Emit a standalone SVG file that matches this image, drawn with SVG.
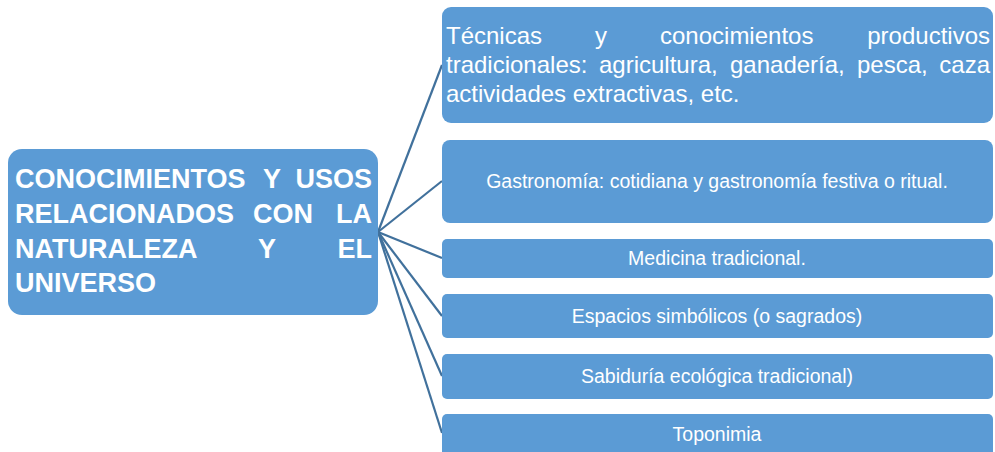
<svg xmlns="http://www.w3.org/2000/svg" width="995" height="452" viewBox="0 0 995 452">
<style>
.box{fill:#5B9BD5;}
.ln{stroke:#41719C;stroke-width:2.2;fill:none;}
.t{font-family:"Liberation Sans",Arial,sans-serif;fill:#FFFFFF;}
.title{font-weight:bold;font-size:27px;}
.big{font-size:24px;}
.sm{font-size:19.5px;text-anchor:middle;}
</style>
<rect width="995" height="452" fill="#FFFFFF"/>
<g id="connectors">
<line class="ln" x1="378" y1="232" x2="442" y2="65"/>
<line class="ln" x1="378" y1="232" x2="442" y2="181"/>
<line class="ln" x1="378" y1="232" x2="442" y2="258"/>
<line class="ln" x1="378" y1="232" x2="442" y2="316"/>
<line class="ln" x1="378" y1="232" x2="442" y2="376"/>
<line class="ln" x1="378" y1="232" x2="442" y2="433"/>
</g>
<g id="main">
<rect class="box" x="8" y="149" width="370" height="166" rx="14"/>
<text class="t title" y="188"><tspan x="15">CONOCIMIENTOS</tspan><tspan x="272" text-anchor="middle">Y</tspan><tspan x="372" text-anchor="end">USOS</tspan></text>
<text class="t title" y="223"><tspan x="15">RELACIONADOS</tspan><tspan x="283" text-anchor="middle">CON</tspan><tspan x="372" text-anchor="end">LA</tspan></text>
<text class="t title" y="258"><tspan x="15">NATURALEZA</tspan><tspan x="267" text-anchor="middle">Y</tspan><tspan x="372" text-anchor="end">EL</tspan></text>
<text class="t title" x="15" y="292">UNIVERSO</text>
</g>
<g id="n1">
<rect class="box" x="442" y="7" width="551" height="116" rx="9"/>
<text class="t big" y="44"><tspan x="446">Técnicas</tspan><tspan x="595">y</tspan><tspan x="660">conocimientos</tspan><tspan x="990" text-anchor="end">productivos</tspan></text>
<text class="t big" y="73"><tspan x="446">tradicionales:</tspan><tspan x="599">agricultura,</tspan><tspan x="730">ganadería,</tspan><tspan x="857">pesca,</tspan><tspan x="990" text-anchor="end">caza</tspan></text>
<text class="t big" x="446" y="102">actividades extractivas, etc.</text>
</g>
<g id="n2">
<rect class="box" x="442" y="140" width="551" height="83" rx="8"/>
<text class="t sm" x="717" y="188">Gastronomía: cotidiana y gastronomía festiva o ritual.</text>
</g>
<g id="n3">
<rect class="box" x="442" y="239" width="551" height="39" rx="5"/>
<text class="t sm" x="717" y="265">Medicina tradicional.</text>
</g>
<g id="n4">
<rect class="box" x="442" y="294" width="551" height="44" rx="5"/>
<text class="t sm" x="717" y="323">Espacios simbólicos (o sagrados)</text>
</g>
<g id="n5">
<rect class="box" x="442" y="354" width="551" height="45" rx="5"/>
<text class="t sm" x="717" y="383">Sabiduría ecológica tradicional)</text>
</g>
<g id="n6">
<rect class="box" x="442" y="414" width="551" height="50" rx="5"/>
<text class="t sm" x="717" y="441">Toponimia</text>
</g>
</svg>
